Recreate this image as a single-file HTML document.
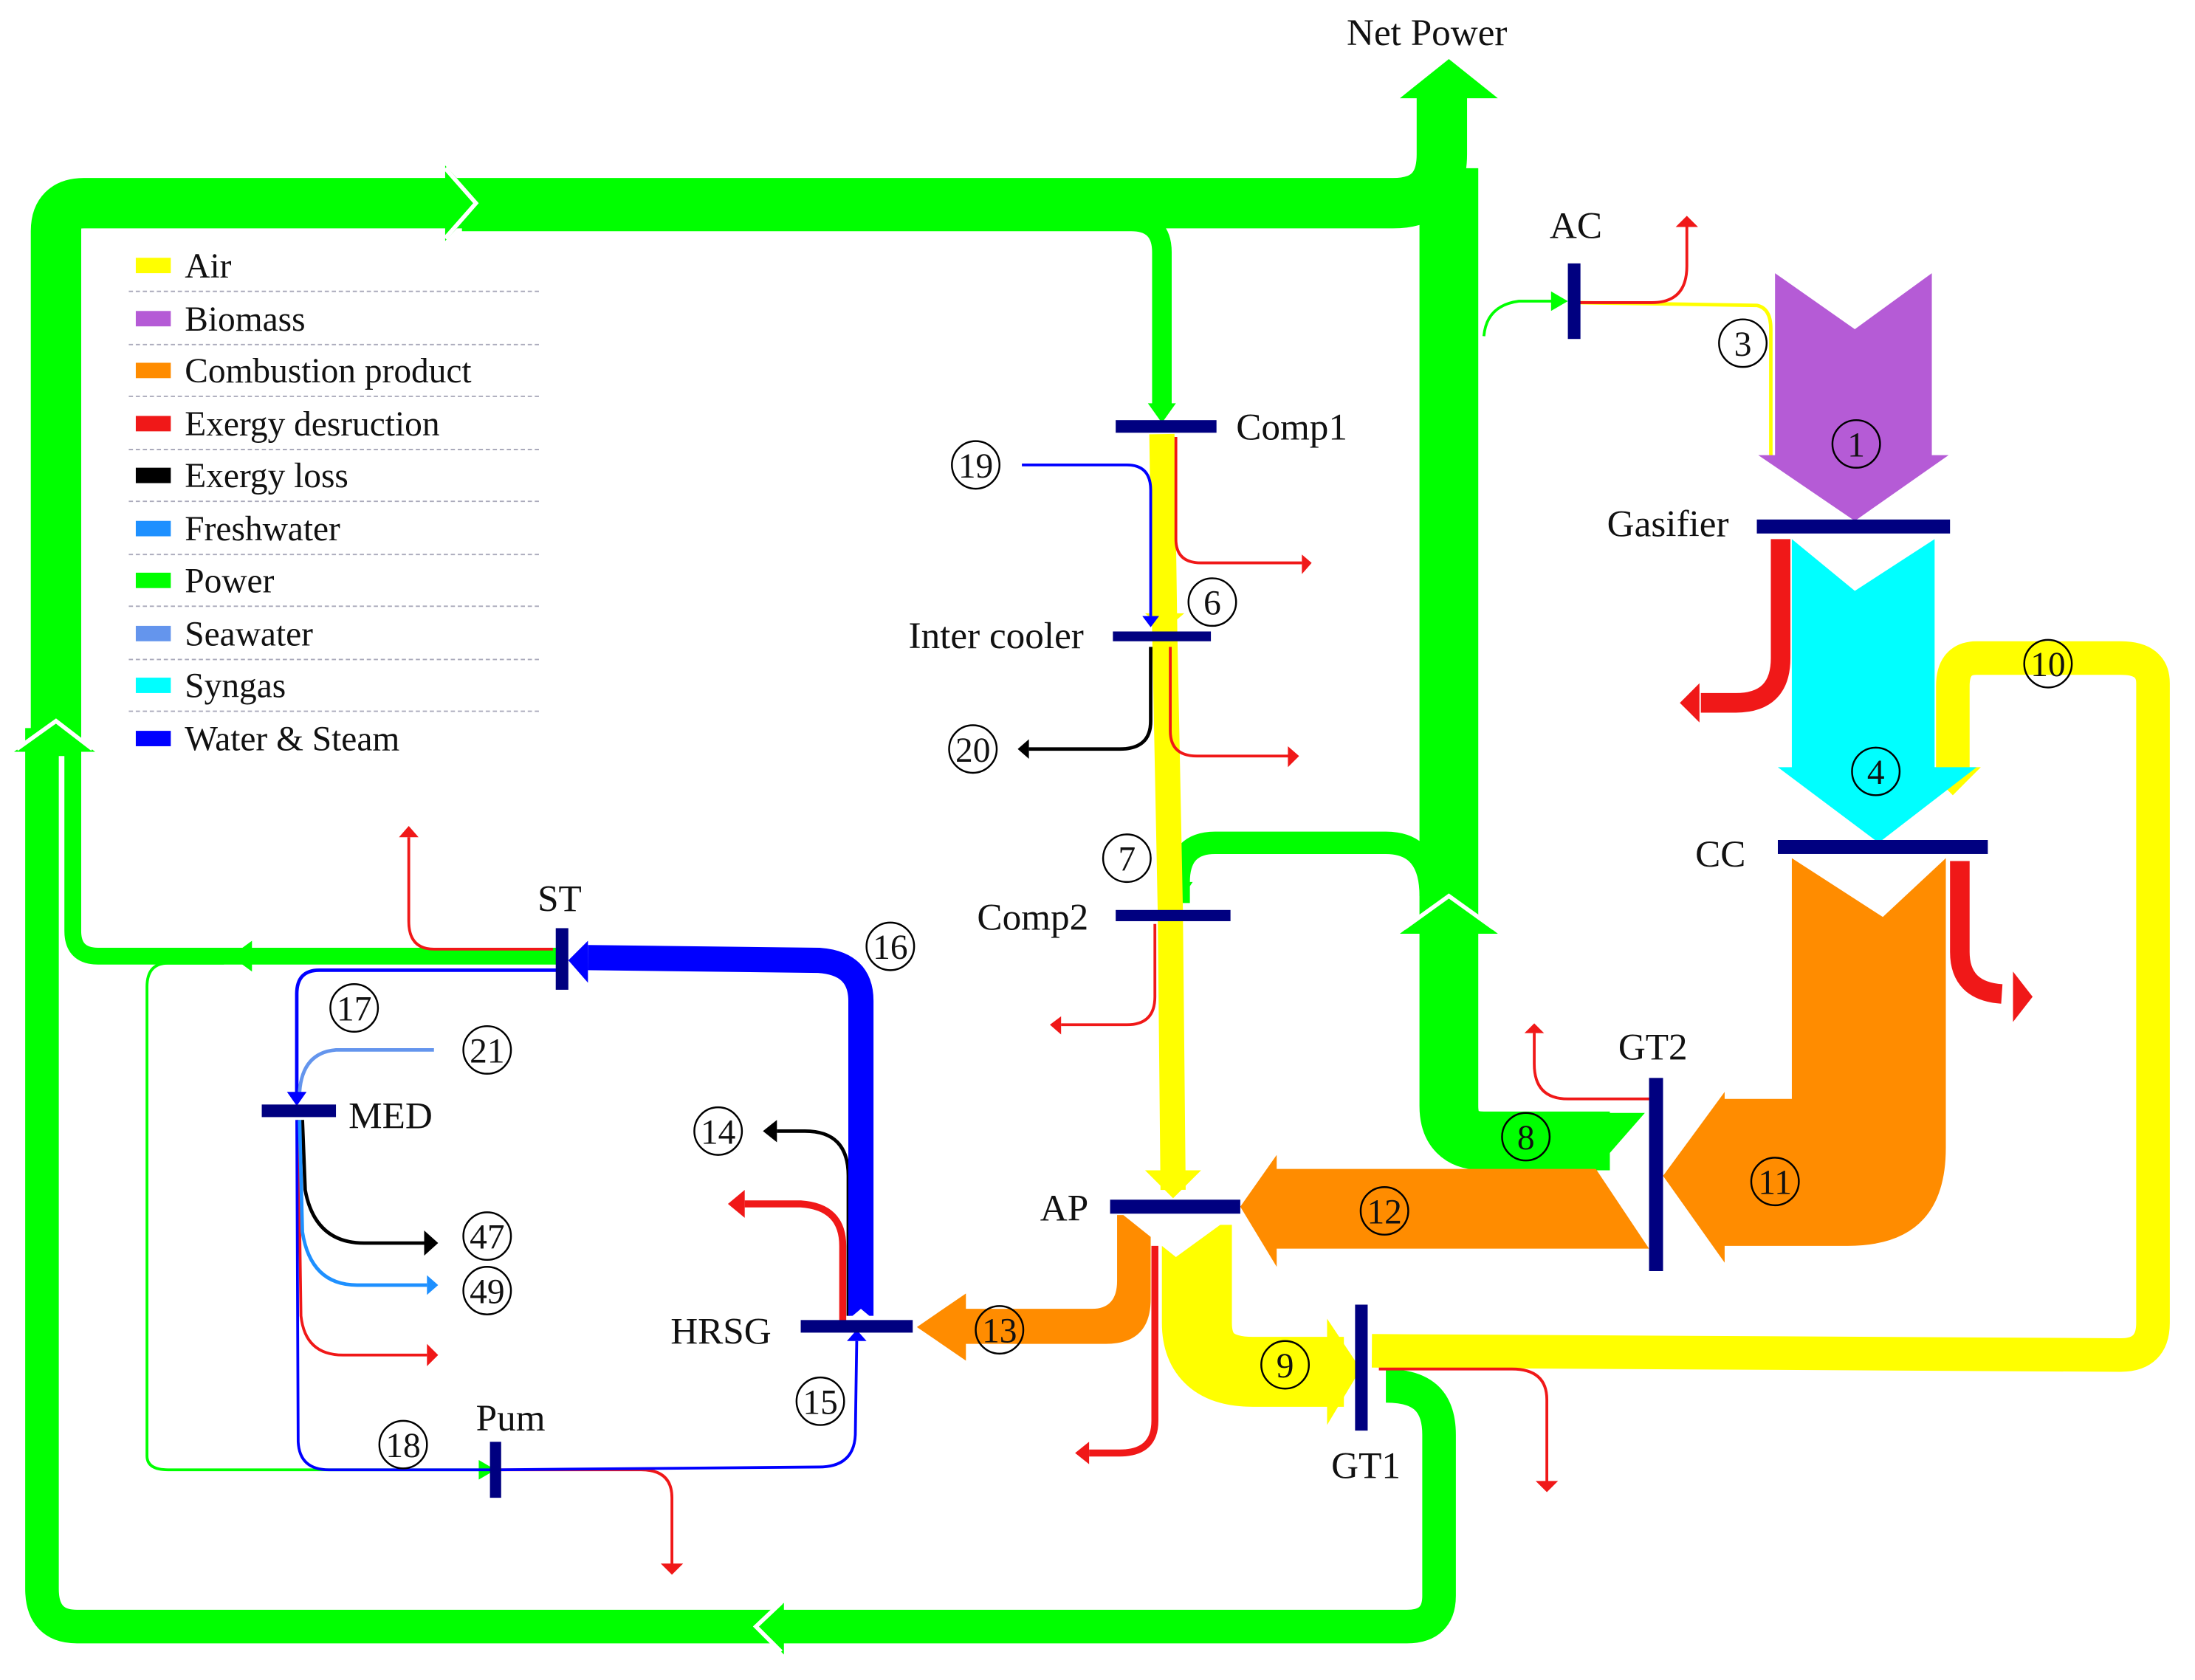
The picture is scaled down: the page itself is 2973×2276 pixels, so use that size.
<!DOCTYPE html>
<html><head><meta charset="utf-8"><style>
html,body{margin:0;padding:0;background:#fff}
svg{display:block}
text{font-family:"Liberation Serif",serif;fill:#111}
</style></head><body>
<svg width="2973" height="2276" viewBox="0 0 1568 1200" xmlns="http://www.w3.org/2000/svg">
<rect width="1568" height="1200" fill="#fff"/>
<g fill="none" stroke-linejoin="round">
<path d="M990,990 C1015,990 1028,1000 1028,1025 L1028,1140 Q1028,1162 1005,1162 L55,1162 Q30,1162 30,1135 L30,520" stroke="#00ff00" stroke-width="24"/>
<path d="M400,683 L70,683 Q52,683 52,665 L52,525" stroke="#00ff00" stroke-width="12"/>
<path d="M40,540 L40,165 Q40,145 60,145 L995,145 Q1030,145 1030,110 L1030,65" stroke="#00ff00" stroke-width="36"/>
<path d="M330,158 L808,158 Q830,158 830,180 L830,290" stroke="#00ff00" stroke-width="14"/>
<path d="M1150,815 L1060,815 Q1035,815 1035,790 L1035,120" stroke="#00ff00" stroke-width="42"/>
<path d="M1022,640 Q1022,602 990,602 L868,602 Q842,602 842,630 L842,645" stroke="#00ff00" stroke-width="16"/>
<path d="M1060,240 Q1062,218 1085,215 L1115,215" stroke="#00ff00" stroke-width="2"/>
<path d="M160,688 L120,688 Q105,688 105,705 L105,1040 Q105,1050 120,1050 L350,1050" stroke="#00ff00" stroke-width="2"/>
</g>
<polygon points="1000,70 1035,42 1070,70" fill="#00ff00"/>
<polygon points="1000,667 1035,640 1070,667" fill="#00ff00"/>
<polyline points="1003,663 1035,640 1067,663" fill="none" stroke="#fff" stroke-width="3"/>
<polygon points="10,537 40,515 68,537" fill="#00ff00"/>
<polyline points="12,535 40,515 66,535" fill="none" stroke="#fff" stroke-width="3"/>
<polygon points="318,118 343,145 318,172" fill="#00ff00"/>
<polyline points="318,120 340,145 318,170" fill="none" stroke="#fff" stroke-width="3"/>
<polygon points="560,1145 540,1162 560,1182" fill="#00ff00"/>
<polyline points="558,1145 540,1162 558,1180" fill="none" stroke="#fff" stroke-width="3"/>
<polygon points="180,672 165,683 180,694" fill="#00ff00"/>
<polygon points="820,288 830,302 840,288" fill="#00ff00"/>
<polygon points="832,630 842,645 852,630" fill="#00ff00"/>
<polygon points="1108,208 1120,215 1108,222" fill="#00ff00"/>
<polygon points="342,1043 354,1050 342,1057" fill="#00ff00"/>

<g fill="none">
<path d="M830,310 L832,450 L836,650 L838,850" stroke="#ffff00" stroke-width="18"/>
<path d="M1125,216 L1255,218 Q1265,220 1265,235 L1265,330" stroke="#ffff00" stroke-width="2.5"/>
<path d="M855,875 L855,945 Q855,980 895,980 L960,980" stroke="#ffff00" stroke-width="50"/>
<path d="M980,965 L1515,968 Q1538,968 1538,945 L1538,488 Q1538,470 1515,470 L1412,470 Q1395,470 1395,490 L1395,555" stroke="#ffff00" stroke-width="24"/>
</g>
<polygon points="818,438 832,450 846,438" fill="#ffff00"/>
<polygon points="818,836 838,856 858,836" fill="#ffff00"/>
<polygon points="948,942 972,978 948,1018" fill="#ffff00"/>
<polygon points="1375,548 1395,568 1415,548" fill="#ffff00"/>

<polygon points="1268,195 1325,235 1380,195 1380,325 1392,325 1325,372 1256,325 1268,325" fill="#b55bd6"/>
<polygon points="1280,385 1325,422 1382,385 1382,548 1412,548 1342,602 1270,548 1280,548" fill="#00ffff"/>
<path d="M1280,613 L1345,655 L1390,613 L1390,820 Q1390,890 1320,890 L1232,890 L1232,902 L1188,840 L1232,780 L1232,785 L1280,785 Z" fill="#ff8c00"/>
<polygon points="1050,795 1175,795 1140,835 1050,835" fill="#00ff00"/>
<polygon points="1140,835 1178,892 912,892 912,905 886,862 912,825 912,835" fill="#ff8c00"/>
<path d="M798,868 L822,868 L822,928 Q822,960 790,960 L690,960 L690,972 L655,948 L690,924 L690,935 L780,935 Q798,935 798,915 Z" fill="#ff8c00"/>
<polygon points="800,866 840,898 884,866" fill="#fff"/>

<g fill="none" stroke="#f01818">
<path d="M1272,385 L1272,470 Q1272,502 1240,502 L1215,502" stroke-width="14"/>
<path d="M1400,615 L1400,680 Q1400,708 1430,710" stroke-width="14"/>
<path d="M1123,216 L1180,216 Q1205,216 1205,190 L1205,162" stroke-width="2"/>
<path d="M840,312 L840,385 Q840,402 858,402 L930,402" stroke-width="2"/>
<path d="M836,462 L836,522 Q836,540 855,540 L922,540" stroke-width="2"/>
<path d="M825,660 L825,712 Q825,732 805,732 L758,732" stroke-width="2"/>
<path d="M825,890 L825,1015 Q825,1038 800,1038 L778,1038" stroke-width="5"/>
<path d="M1178,785 L1120,785 Q1096,785 1096,760 L1096,738" stroke-width="2"/>
<path d="M985,978 L1080,978 Q1105,978 1105,1000 L1105,1060" stroke-width="2"/>
<path d="M395,678 L310,678 Q292,678 292,658 L292,598" stroke-width="2"/>
<path d="M602,945 L602,890 Q602,862 572,860 L532,860" stroke-width="5"/>
<path d="M213,800 L215,940 Q218,968 245,968 L305,968" stroke-width="2"/>
<path d="M355,1050 L458,1050 Q480,1050 480,1070 L480,1118" stroke-width="2"/>
</g>
<g fill="#f01818">
<polygon points="1200,502 1214,488 1214,516"/>
<polygon points="1452,712 1438,694 1438,730"/>
<polygon points="1197,162 1205,154 1213,162"/>
<polygon points="930,396 937,402 930,410"/>
<polygon points="920,533 928,540 920,548"/>
<polygon points="758,726 750,732 758,739"/>
<polygon points="778,1030 768,1038 778,1046"/>
<polygon points="1089,738 1096,731 1103,738"/>
<polygon points="1097,1058 1105,1066 1113,1058"/>
<polygon points="285,598 292,590 299,598"/>
<polygon points="532,850 520,860 532,870"/>
<polygon points="305,960 313,968 305,976"/>
<polygon points="472,1117 480,1125 488,1117"/>
</g>
<g fill="none" stroke="#000" stroke-width="2.5">
<path d="M822,462 L822,515 Q822,535 800,535 L735,535"/>
<path d="M606,940 L606,840 Q606,808 575,808 L555,808"/>
<path d="M216,800 L218,850 Q225,888 260,888 L305,888"/>
</g>
<polygon points="735,528 727,535 735,542" fill="#000"/>
<polygon points="555,800 545,808 555,816" fill="#000"/>
<polygon points="303,879 313,888 303,897" fill="#000"/>
<g fill="none">
<path d="M730,332 L805,332 Q822,332 822,350 L822,440" stroke="#0000ff" stroke-width="2"/>
<path d="M615,940 L615,715 Q615,688 585,686 L420,684" stroke="#0000ff" stroke-width="18"/>
<path d="M398,693 L228,693 Q212,693 212,710 L212,785" stroke="#0000ff" stroke-width="2.5"/>
<path d="M212,800 L213,1030 Q214,1050 235,1050 L355,1050 L585,1048 Q610,1048 611,1025 L612,958" stroke="#0000ff" stroke-width="2"/>
<path d="M310,750 L240,750 Q216,752 214,780" stroke="#6495ed" stroke-width="2.5"/>
<path d="M214,800 L216,880 Q222,918 255,918 L305,918" stroke="#1e90ff" stroke-width="2.5"/>
</g>
<polygon points="816,440 822,448 828,440" fill="#0000ff"/>
<polygon points="420,672 406,686 420,702" fill="#0000ff"/>
<polygon points="205,780 212,790 219,780" fill="#0000ff"/>
<polygon points="605,958 612,950 619,958" fill="#0000ff"/>
<polygon points="603,945 615,935 627,945" fill="#fff"/>
<polygon points="305,911 313,918 305,925" fill="#1e90ff"/>

<g fill="#000080">
<rect x="1255" y="371" width="138" height="10"/>
<rect x="1270" y="600" width="150" height="10"/>
<rect x="1178" y="770" width="10" height="138"/>
<rect x="968" y="932" width="9" height="90"/>
<rect x="793" y="857" width="93" height="10"/>
<rect x="572" y="943" width="80" height="9"/>
<rect x="797" y="300" width="72" height="9"/>
<rect x="795" y="451" width="70" height="7"/>
<rect x="797" y="650" width="82" height="8"/>
<rect x="1120" y="188" width="9" height="54"/>
<rect x="397" y="663" width="9" height="44"/>
<rect x="187" y="789" width="53" height="9"/>
<rect x="350" y="1030" width="8" height="40"/>
</g>

<g font-size="27">
<text x="962" y="32">Net Power</text>
<text x="1107" y="170">AC</text>
<text x="883" y="314">Comp1</text>
<text x="1148" y="383">Gasifier</text>
<text x="649" y="463">Inter cooler</text>
<text x="1211" y="619">CC</text>
<text x="698" y="664">Comp2</text>
<text x="384" y="651">ST</text>
<text x="1156" y="757">GT2</text>
<text x="249" y="806">MED</text>
<text x="743" y="872">AP</text>
<text x="479" y="960">HRSG</text>
<text x="340" y="1022">Pum</text>
<text x="951" y="1056">GT1</text>
</g>
<g fill="none" stroke="#000" stroke-width="1.3">
<circle cx="1245" cy="245" r="17"/><circle cx="1326" cy="317" r="17"/>
<circle cx="697" cy="332" r="17"/><circle cx="866" cy="430" r="17"/>
<circle cx="1463" cy="474" r="17"/><circle cx="695" cy="535" r="17"/>
<circle cx="1340" cy="551" r="17"/><circle cx="805" cy="613" r="17"/>
<circle cx="636" cy="676" r="17"/><circle cx="253" cy="720" r="17"/>
<circle cx="348" cy="750" r="17"/><circle cx="513" cy="808" r="17"/>
<circle cx="1090" cy="812" r="17"/><circle cx="1268" cy="844" r="17"/>
<circle cx="989" cy="865" r="17"/><circle cx="348" cy="883" r="17"/>
<circle cx="348" cy="922" r="17"/><circle cx="714" cy="950" r="17"/>
<circle cx="918" cy="975" r="17"/><circle cx="586" cy="1001" r="17"/>
<circle cx="288" cy="1032" r="17"/>
</g>
<g font-size="25" text-anchor="middle">
<text x="1245" y="254">3</text><text x="1326" y="326">1</text>
<text x="697" y="341">19</text><text x="866" y="439">6</text>
<text x="1463" y="483">10</text><text x="695" y="544">20</text>
<text x="1340" y="560">4</text><text x="805" y="622">7</text>
<text x="636" y="685">16</text><text x="253" y="729">17</text>
<text x="348" y="759">21</text><text x="513" y="817">14</text>
<text x="1090" y="821">8</text><text x="1268" y="853">11</text>
<text x="989" y="874">12</text><text x="348" y="892">47</text>
<text x="348" y="931">49</text><text x="714" y="959">13</text>
<text x="918" y="984">9</text><text x="586" y="1010">15</text>
<text x="288" y="1041">18</text>
</g>

<g font-size="25">
<rect x="97" y="184" width="25" height="11" fill="#ffff00"/><text x="132" y="198">Air</text>
<rect x="97" y="222" width="25" height="11" fill="#b55bd6"/><text x="132" y="236">Biomass</text>
<rect x="97" y="259" width="25" height="11" fill="#ff8c00"/><text x="132" y="273">Combustion product</text>
<rect x="97" y="297" width="25" height="11" fill="#f01818"/><text x="132" y="311">Exergy desruction</text>
<rect x="97" y="334" width="25" height="11" fill="#000"/><text x="132" y="348">Exergy loss</text>
<rect x="97" y="372" width="25" height="11" fill="#1e90ff"/><text x="132" y="386">Freshwater</text>
<rect x="97" y="409" width="25" height="11" fill="#00ff00"/><text x="132" y="423">Power</text>
<rect x="97" y="447" width="25" height="11" fill="#6495ed"/><text x="132" y="461">Seawater</text>
<rect x="97" y="484" width="25" height="11" fill="#00ffff"/><text x="132" y="498">Syngas</text>
<rect x="97" y="522" width="25" height="11" fill="#0000ff"/><text x="132" y="536">Water &amp; Steam</text>
</g>
<g stroke="#aab" stroke-width="1" stroke-dasharray="3,2">
<line x1="92" y1="208" x2="385" y2="208"/><line x1="92" y1="246" x2="385" y2="246"/>
<line x1="92" y1="283" x2="385" y2="283"/><line x1="92" y1="321" x2="385" y2="321"/>
<line x1="92" y1="358" x2="385" y2="358"/><line x1="92" y1="396" x2="385" y2="396"/>
<line x1="92" y1="433" x2="385" y2="433"/><line x1="92" y1="471" x2="385" y2="471"/>
<line x1="92" y1="508" x2="385" y2="508"/>
</g>
</svg>
</body></html>
